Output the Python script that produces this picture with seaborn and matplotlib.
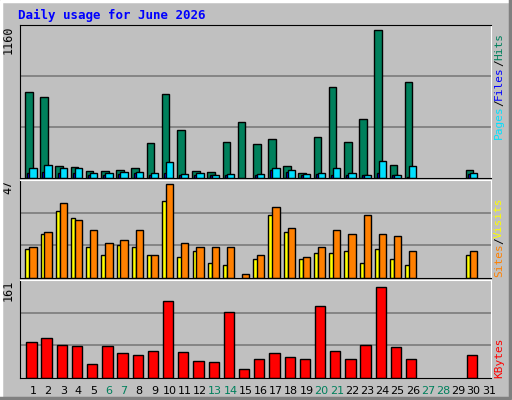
import numpy as np
import pandas as pd
import matplotlib
matplotlib.use("Agg")
import matplotlib.pyplot as plt
import seaborn as sns
from matplotlib.lines import Line2D

# --- dati ---
days = list(range(1, 32))
hits = [654, 613, 94, 86, 56, 56, 64, 79, 262, 636, 361, 56, 48, 270, 422, 254,
        293, 94, 41, 308, 689, 270, 445, 1124, 102, 727, 0, 0, 0, 64, 0]
files = [41, 48, 41, 41, 25, 25, 33, 41, 25, 41, 25, 25, 20, 25, 0, 25,
         64, 48, 25, 33, 25, 25, 20, 41, 20, 8, 0, 0, 0, 33, 0]
pages = [74, 102, 79, 79, 41, 41, 48, 48, 41, 125, 33, 41, 25, 33, 0, 33,
         79, 64, 33, 41, 79, 41, 25, 132, 25, 94, 0, 0, 0, 41, 0]
visits = [14, 21, 32, 29, 15, 11, 16, 15, 11, 37, 10, 13, 7, 6, 0, 9,
          30, 22, 9, 12, 12, 13, 7, 14, 9, 6, 0, 0, 0, 11, 0]
sites = [15, 22, 36, 28, 23, 17, 18, 23, 11, 45, 17, 15, 15, 15, 2, 11,
         34, 24, 10, 15, 23, 21, 30, 21, 20, 13, 0, 0, 0, 13, 0]
kbytes = [59, 66, 54, 53, 23, 53, 41, 38, 44, 127, 43, 28, 27, 108, 14, 31,
          41, 35, 31, 119, 44, 31, 54, 149, 51, 31, 0, 0, 0, 38, 0]
weekend = [6, 7, 13, 14, 20, 21, 27, 28]
max_top, max_mid, max_bot = 1160, 47, 161

BG = "#c0c0c0"
W, H = 512, 400
MONO = "DejaVu Sans Mono"

fig = plt.figure(figsize=(W / 100, H / 100), dpi=100, facecolor=BG)


def px_axes(x0, y0, x1, y1):
    ax = fig.add_axes([x0 / W, 1 - y1 / H, (x1 - x0) / W, (y1 - y0) / H])
    ax.set_facecolor(BG)
    return ax


def draw_bars(ax, values, offset, width, color):
    df = pd.DataFrame({"x": np.array(days) + offset, "y": values})
    df = df[df["y"] > 0]
    sns.barplot(data=df, x="x", y="y", native_scale=True, width=width,
                color=color, saturation=1, edgecolor="black", linewidth=1,
                ax=ax)


def style(ax, vmax, label):
    ax.set_xlim(0.15, 31.15)
    ax.set_ylim(0, vmax)
    for f in (1 / 3, 2 / 3):
        ax.axhline(vmax * f, color="#808080", lw=1.3, zorder=0)
    ax.set_axisbelow(True)
    ax.set_xticks([])
    ax.set_yticks([])
    ax.set_xlabel("")
    ax.set_ylabel("")
    for s in ax.spines.values():
        s.set_color("black")
    ax.spines["right"].set_color("white")
    ax.spines["top"].set_color("white")
    ax.text(-0.026, 1.0, label, transform=ax.transAxes, rotation=90,
            ha="center", va="top", fontsize=8.5, family=MONO)


ax1 = px_axes(20, 25, 491, 178)
ax1.spines["top"].set_color("black")
draw_bars(ax1, hits, -0.27, 0.5, "#00805c")
draw_bars(ax1, files, -0.17, 0.4, "#0000ff")
draw_bars(ax1, pages, 0.0, 0.48, "#00e0ff")
style(ax1, max_top, str(max_top))
ax1.spines["top"].set_color("black")

ax2 = px_axes(20, 180, 491, 278)
draw_bars(ax2, visits, -0.35, 0.29, "#ffff00")
draw_bars(ax2, sites, 0.0, 0.48, "#ff8000")
style(ax2, max_mid, str(max_mid))

ax3 = px_axes(20, 280, 491, 378)
draw_bars(ax3, kbytes, -0.1, 0.68, "#ff0000")
style(ax3, max_bot, str(max_bot))

# etichette giorni
for d in days:
    c = "#00805c" if d in weekend else "black"
    ax3.text(d, -0.08, str(d), transform=ax3.get_xaxis_transform(),
             ha="center", va="top", fontsize=8, color=c)

# titolo
fig.text(18 / W, 1 - 15 / H, "Daily usage for June 2026", color="#0000ff",
         fontsize=9, weight="bold", family=MONO, va="center", ha="left")

# cornice 3D esterna
for (xs, ys, col) in [([1, 1, 510], [398, 1, 1], "white"),
                      ([1, 510, 510], [398, 398, 1], "#808080")]:
    fig.add_artist(Line2D([x / W for x in xs], [1 - y / H for y in ys],
                          color=col, lw=2.5, transform=fig.transFigure))

# legende laterali (verticali, dal basso)
def side(parts, x, y_start):
    y = y_start
    for txt, col in parts:
        h = len(txt) * 5.6 + 3
        fig.text(x / W, 1 - (y - h / 2) / H, txt, rotation=90, color=col,
                 fontsize=8, family=MONO, ha="center", va="center")
        y -= h


side([("Pages", "#00e0ff"), ("/", "black"), ("Files", "#0000ff"),
      ("/", "black"), ("Hits", "#00805c")], 499, 138)
side([("Sites", "#ff8000"), ("/", "black"), ("Visits", "#ffff00")], 499, 276)
side([("KBytes", "#ff0000")], 499, 376)

fig.savefig("out.png", dpi=100, facecolor=BG)
